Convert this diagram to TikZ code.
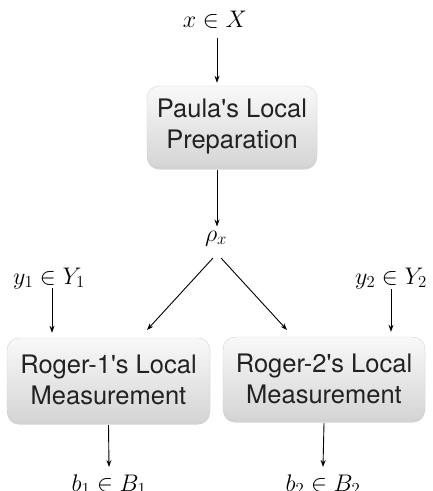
\RequirePackage{fix-cm}
\documentclass[tikz,border=0pt]{standalone}
\usepackage{fontspec}
\newfontfamily\helv{TeX Gyre Heros}
\usetikzlibrary{arrows.meta,shadows}
\definecolor{boxtxt}{HTML}{222222}
\tikzset{
  box/.style={rounded corners=12pt, top color=gray!5, bottom color=gray!33,
    draw=gray!35, line width=0.4pt,
    drop shadow={shadow xshift=0pt, shadow yshift=-2.5pt, opacity=0.35, fill=gray},
    align=center, text=boxtxt, inner sep=0pt,
    font=\helv\fontsize{25.5}{31}\selectfont},
  lab/.style={inner sep=0pt, anchor=base, font=\fontsize{24}{28}\selectfont},
  arr/.style={-{Stealth[length=7pt,width=5pt]}, line width=0.9pt},
}
\begin{document}
\begin{tikzpicture}[x=1pt,y=-1pt]
\useasboundingbox (0,0) rectangle (433,491);
% boxes
\node[box, minimum width=170, minimum height=81] (P) at (232,126.5) {Paula's Local\\Preparation};
\node[box, minimum width=203, minimum height=84] (R1) at (108.5,380) {Roger-1's Local\\Measurement};
\node[box, minimum width=202, minimum height=83] (R2) at (324,378.5) {Roger-2's Local\\Measurement};
% labels
\node[lab] (x) at (215,27) {$x\in X$};
\node[lab] (rho) at (216,241) {$\rho_x$};
\node[lab] (y1) at (49,284) {$y_1\in Y_1$};
\node[lab] (y2) at (391,284) {$y_2\in Y_2$};
\node[lab] (b1) at (109,491) {$b_1\in B_1$};
\node[lab] (b2) at (323,491) {$b_2\in B_2$};
% connector end points
\coordinate (r1) at (213,258);
\coordinate (r2) at (221,258);
\coordinate (t1) at (147,330);
\coordinate (t2) at (287,330);
% arrows
\draw[arr] ([yshift=-11]x.base -| 217,0) -- ([yshift=3]P.north -| 217,0);
\draw[arr] ([yshift=-3]P.south -| 217,0) -- ([yshift=4]rho.north -| 217,0);
\draw[arr] (r1) -- (t1);
\draw[arr] (r2) -- (t2);
\draw[arr] ([yshift=-4]y1.base -| 52,0) -- ([yshift=5]R1.north -| 52,0);
\draw[arr] ([yshift=-5]y2.base) -- ([yshift=5]R2.north -| y2.base);
\draw[arr] ([yshift=-3]R1.south) -- ([yshift=24]b1.base);
\draw[arr] ([yshift=-3]R2.south) -- ([yshift=24]b2.base);
\end{tikzpicture}
\end{document}
